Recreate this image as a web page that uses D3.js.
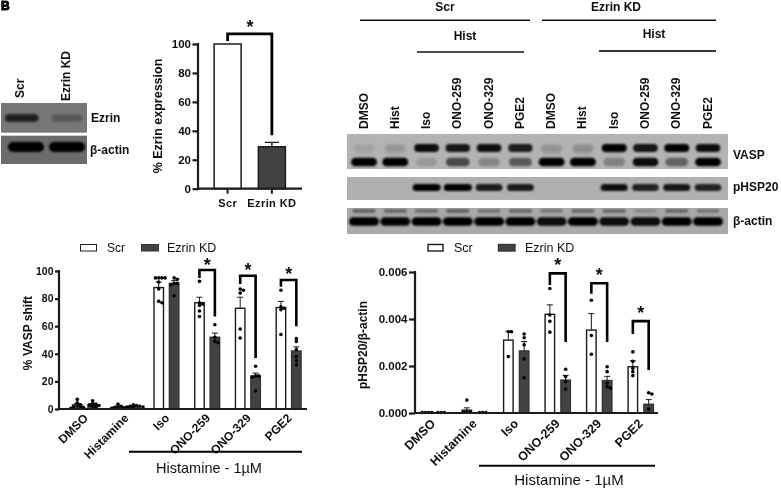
<!DOCTYPE html>
<html><head><meta charset="utf-8">
<script src="https://cdn.jsdelivr.net/npm/d3@7"></script>
<style>
html,body{margin:0;padding:0;background:#fff;}
svg{display:block;font-family:"Liberation Sans",Arial,sans-serif;}
text{fill:#111;}
</style></head><body>
<svg id="c" width="781" height="489"></svg>
<script>
// ---- Data ----
const series = ["Scr","Ezrin KD"];
const expressionMeans = [100,29];
const expressionErrors = [0,3];

const groups = ["DMSO","Histamine","Iso","ONO-259","ONO-329","PGE2"];
const vaspScrMeans = [3,1.5,88,77,73,73.5];
const vaspKdMeans = [3,2,91,52,24,42];
const vaspScrErrors = [1,0.7,4,4,8,4.5];
const vaspKdErrors = [0.8,0.4,2,3,2,3];
const vaspScrPoints = [[7,4.5,3,2,1.5,1,1,0.5],[3.5,2,1.5,1,0.8,0.5],[95,95,95,95,92,87,78,77],[92.5,77,76,75,71,67],[87,86,84,58,51.5],[86,74,73,72,54]];
const vaspKdPoints = [[6,4,3.5,3,2.5,2,1.5],[3,2.5,2,2,1.5,1.5,1],[95,94,91,91,90,82],[61,52,49,48],[31,24,24,23,13],[51,49,43,38,35,32]];
const vaspBrackets = [[3,100.7,95,67],[4,96.6,90.5,37],[5,93.5,88.6,60]];

const hspScrMeans = [0.00003,0.00012,0.0031,0.0042,0.00353,0.00197];
const hspKdMeans = [0.00003,0.00003,0.00264,0.0014,0.00138,0.00037];
const hspScrErrors = [0,0.0001,0.00038,0.0004,0.0007,0.00025];
const hspKdErrors = [0,0,0.0004,0.0002,0.00018,0.0002];
const hspScrPoints = [[0.00002,0.00002,0.00002,0.00002],[0.00055,0.00005,0.00003,0.00003],[0.00346,0.00346,0.0024],[0.0053,0.00417,0.0039,0.00344],[0.0048,0.0033,0.0025],[0.0026,0.0022,0.0019,0.00176,0.00159]];
const hspKdPoints = [[0.00002,0.00002,0.00002],[0.00002,0.00002,0.00002],[0.00336,0.0032,0.0029,0.0023,0.0015],[0.00186,0.00155,0.00133,0.00102],[0.00197,0.00176,0.00127,0.00112,0.00106],[0.00086,0.00081,0.00017]];
const hspBrackets = [[3,0.00594,0.00545,0.00302],[4,0.00552,0.00507,0.00302],[5,0.00391,0.00336,0.00183]];

const yTicksPercent = [0,20,40,60,80,100];
const yTicksHsp = [0,0.002,0.004,0.006];

const lanes = ["DMSO","Hist","Iso","ONO-259","ONO-329","PGE2","DMSO","Hist","Iso","ONO-259","ONO-329","PGE2"];
const vaspUpper = [.06,.1,.95,.88,.92,.85,.1,.12,1,.9,1,.92];
const vaspLower = [1,1,.14,.6,.25,.5,1,1,.28,.95,.45,.98];
const vaspUpperGhost = [.1,.2,0,0,0,0,.25,.28,.25,0,0,0];
const hspBand = [0,0,1,1,.85,.85,0,0,.9,.82,.88,.82];
const actinMain = [1,.97,1,1,1,1,.95,1,.95,.95,1,1];
const actinTop = [.6,.55,.5,.6,.45,.55,.4,.55,.55,.25,.55,.4];
const ezrinLanes = ["Scr","Ezrin KD"];
const ezrinBand = [.85,.26];
const actinBand = [1,1];

// ---- Helpers ----
const svg = d3.select("#c");
const defs = svg.append("defs");
[["blur",1.3],["blur2",0.8],["soft",0.22]].forEach(([id,s])=>{
  defs.append("filter").attr("id",id).attr("x","-20%").attr("y","-60%").attr("width","140%").attr("height","220%")
    .append("feGaussianBlur").attr("stdDeviation",s);
});
const dark="#1a1a1a", kdFill="#434343";
const root = svg.append("g").attr("filter","url(#soft)");

function label(x,y,t,size,opts={}){
  return root.append("text").attr("x",x).attr("y",y).text(t)
    .attr("font-size",size).attr("font-weight",opts.regular?400:700)
    .attr("text-anchor",opts.anchor||"start")
    .attr("dominant-baseline","central")
    .attr("transform",opts.rot!=null?`rotate(${opts.rot} ${x} ${y})`:null);
}
function hline(x1,x2,y,w,c){
  root.append("line").attr("x1",x1).attr("x2",x2).attr("y1",y).attr("y2",y).attr("stroke",c||"#111").attr("stroke-width",w);
}
function axisY(scale,x,ticks,fmt,size,tickLen,w){
  const a = d3.axisLeft(scale).tickValues(ticks).tickFormat(fmt).tickSize(tickLen).tickPadding(1.5);
  const g = root.append("g").attr("transform",`translate(${x},0)`).call(a);
  g.select(".domain").attr("stroke",dark).attr("stroke-width",w).attr("d",`M0,${scale.range()[0]+1}V${scale.range()[1]-1}`);
  g.selectAll(".tick line").attr("stroke",dark).attr("stroke-width",w);
  g.selectAll(".tick text").attr("font-size",size).attr("font-weight",700).attr("font-family","Liberation Sans").attr("fill","#111");
}
function dodge(values,y,step){
  const placed=[];
  values.slice().sort((a,b)=>b-a).forEach(v=>{
    const py=y(v);
    for(const k of [0,1,-1,2,-2,3,-3]){
      const dx=k*step;
      if(!placed.some(p=>Math.hypot(p.dx-dx,p.py-py)<step*0.85)){placed.push({dx,py});break;}
    }
  });
  return placed;
}
function bracket(x1,x2,yTop,yL,yR,w){
  root.append("path").attr("fill","none").attr("stroke","#000").attr("stroke-width",w)
    .attr("d",d3.line()([[x1,yL],[x1,yTop],[x2,yTop],[x2,yR]]));
}
function star(x,y,size){
  root.append("text").attr("x",x).attr("y",y).text("*").attr("font-size",size).attr("font-weight",700)
    .attr("text-anchor","middle").attr("dominant-baseline","central");
}

// ---- Panel label ----
root.append("text").attr("x",1).attr("y",10).text("B").attr("font-size",12).attr("font-weight",700)
  .attr("stroke","#000").attr("stroke-width",1);

// ---- Bands ----
function blotBox(x,y,w,h,fill){
  const id="clip"+Math.round(x)+"_"+Math.round(y);
  defs.append("clipPath").attr("id",id).append("rect").attr("x",x).attr("y",y).attr("width",w).attr("height",h);
  root.append("rect").attr("x",x).attr("y",y).attr("width",w).attr("height",h).attr("fill",fill);
  return root.append("g").attr("clip-path",`url(#${id})`);
}
function bands(g,scale,values,cy,h,wBase,wGain,color,filter){
  g.append("g").attr("filter",`url(#${filter||"blur"})`).selectAll("rect").data(values).join("rect")
    .attr("x",(d,i)=>scale(i)-(wBase+wGain*d)/2)
    .attr("width",d=>wBase+wGain*d)
    .attr("y",cy-h/2).attr("height",h).attr("rx",h/2)
    .attr("fill",color||"#060606").attr("opacity",d=>d);
}

// Right blots
const laneX = d3.scalePoint().domain(d3.range(lanes.length)).range([364,708]);
const b1 = blotBox(347,134,381,35,"#b3b3b3");
bands(b1,laneX,vaspUpperGhost,150,10,18,6,"#777");
bands(b1,laneX,vaspUpper,148,8,21,4);
bands(b1,laneX,vaspLower,162,8.5,20,6);
const b2 = blotBox(347,177,381,23,"#b0b0b0");
bands(b2,laneX,hspBand,187.5,7,20,8);
const b3 = blotBox(347,208,381,26,"#a9a9a9");
bands(b3,laneX,actinTop,211,4,22,2,"#333","blur2");
bands(b3,laneX,actinMain,221.5,8.5,24,6);

// Left blots
const ezrinX = d3.scalePoint().domain([0,1]).range([21.7,67]);
const e1 = blotBox(1,103,86,29.7,"#777");
bands(e1,ezrinX,ezrinBand,118,7.5,30,4,"#0a0a0a");
const actinX = d3.scalePoint().domain([0,1]).range([26,67]);
const e2 = blotBox(1,135.7,86,28.3,"#6c6c6c");
bands(e2,actinX,actinBand,147,10,33,3,"#050505");

label(20,98,"Scr",12,{rot:-90});
label(66,101,"Ezrin KD",12,{rot:-90});
label(91,118,"Ezrin",12);
label(90,149.5,"β-actin",12);

// Right blot headings
label(445,7,"Scr",12,{anchor:"middle"});
label(616,7,"Ezrin KD",12,{anchor:"middle"});
hline(360,530,20.3,1.5); hline(542,716,20.3,1.5);
label(465,36,"Hist",12,{anchor:"middle"});
label(654,34,"Hist",12,{anchor:"middle"});
hline(417,524,52,1.5); hline(599,716,51,2,"#333");
lanes.forEach((t,i)=>label(laneX(i)-0.5,129,t,12,{rot:-90}));
label(733,155,"VASP",12);
label(733,187,"pHSP20",12);
label(733,220.5,"β-actin",12);

// ---- Panel: % Ezrin expression ----
{
  const y=d3.scaleLinear().domain([0,100]).range([188.7,44]);
  const x=d3.scaleBand().domain(series).range([205.5,294]);
  const bw=27, c=d=>x(d)+x.bandwidth()/2;
  root.selectAll(".ez").data(series).join("rect").attr("x",d=>c(d)-bw/2).attr("width",bw)
    .attr("y",(d,i)=>y(expressionMeans[i])).attr("height",(d,i)=>y(0)-y(expressionMeans[i]))
    .attr("fill",(d,i)=>i?kdFill:"#fff").attr("stroke",dark).attr("stroke-width",1.5);
  series.forEach((s,i)=>{
    if(expressionErrors[i]){
      const t=y(expressionMeans[i]+expressionErrors[i]);
      root.append("path").attr("fill","none").attr("stroke",dark).attr("stroke-width",1.3)
        .attr("d",`M${c(s)},${y(expressionMeans[i])}V${t}M${c(s)-7},${t}H${c(s)+7}`);
    }
    root.append("line").attr("x1",c(s)).attr("x2",c(s)).attr("y1",y(0)).attr("y2",y(0)+5).attr("stroke",dark).attr("stroke-width",2);
    label(c(s),203,s,11,{anchor:"middle"}).attr("letter-spacing",0.4);
  });
  hline(197,302,y(0),2.2,dark);
  axisY(y,198,yTicksPercent,d3.format("d"),11.5,5.5,2.2);
  label(158,116,"% Ezrin expression",12.5,{rot:-90,anchor:"middle"});
  bracket(c("Scr"),c("Ezrin KD"),y(107),y(102),y(37),2.8);
  star(250,27,18);
}

// ---- Grouped charts ----
function grouped(o){
  const {y,x0,half,bw,scrMeans,kdMeans,scrErr,kdErr,scrPts,kdPts,brackets}=o;
  const cx=(i,k)=>x0(groups[i])+x0.bandwidth()/2+(k?half:-half);
  [[scrMeans,scrErr,scrPts],[kdMeans,kdErr,kdPts]].forEach(([m,e,p],k)=>{
    groups.forEach((g,i)=>{
      if(y(m[i])<y(0)-1){
        root.append("rect").attr("x",cx(i,k)-bw/2).attr("width",bw).attr("y",y(m[i])).attr("height",y(0)-y(m[i]))
          .attr("fill",k?kdFill:"#fff").attr("stroke",k?"#333":dark).attr("stroke-width",1.4);
      }
      if(e[i]){
        const t=y(m[i]+e[i]);
        root.append("path").attr("fill","none").attr("stroke",dark).attr("stroke-width",1)
          .attr("d",`M${cx(i,k)},${y(m[i])}V${t}M${cx(i,k)-3},${t}H${cx(i,k)+3}`);
      }
      root.append("g").selectAll("circle").data(dodge(p[i],y,3.2)).join("circle")
        .attr("cx",d=>cx(i,k)+d.dx).attr("cy",d=>d.py).attr("r",1.8).attr("fill","#000");
    });
  });
  brackets.forEach(([g,t,l,r])=>{
    bracket(cx(g,0),cx(g,1),y(t),y(l),y(r),o.bracketW);
    star((cx(g,0)+cx(g,1))/2,y(t)-o.starGap,18);
  });
  groups.forEach((g,i)=>{
    const px=x0(g)+x0.bandwidth()/2+o.labelDx, py=y(0)+o.labelDy;
    label(px,py,g,o.labelSize,{anchor:"end",rot:-45});
  });
}

// VASP
{
  const y=d3.scaleLinear().domain([0,100]).range([409,271]);
  const x0=d3.scaleBand().domain(groups).range([64.6,309]);
  grouped({y,x0,half:7.7,bw:9.5,scrMeans:vaspScrMeans,kdMeans:vaspKdMeans,scrErr:vaspScrErrors,kdErr:vaspKdErrors,
    scrPts:vaspScrPoints,kdPts:vaspKdPoints,brackets:vaspBrackets,bracketW:2.6,starGap:5.5,labelDx:1,labelDy:7,labelSize:12});
  hline(58,307,y(0),2.2,dark);
  axisY(y,59,yTicksPercent,d3.format("d"),10.5,4,2.2);
  label(28,333,"% VASP shift",12,{rot:-90,anchor:"middle"});
  root.append("rect").attr("x",80.5).attr("y",244.5).attr("width",16).attr("height",6.5).attr("fill","#fff").attr("stroke",dark).attr("stroke-width",1);
  label(107,248,"Scr",12,{regular:true});
  root.append("rect").attr("x",141.5).attr("y",244.5).attr("width",17).attr("height",6.5).attr("fill",kdFill).attr("stroke","#333").attr("stroke-width",1);
  label(167,248,"Ezrin KD",12.5,{regular:true});
  hline(129,302,451.7,2,"#000");
  label(209,467.7,"Histamine - 1µM",14.5,{regular:true,anchor:"middle"});
}

// pHSP20
{
  const y=d3.scaleLinear().domain([0,0.006]).range([413,272]);
  const x0=d3.scaleBand().domain(groups).range([412.5,661.5]);
  grouped({y,x0,half:7.9,bw:9.5,scrMeans:hspScrMeans,kdMeans:hspKdMeans,scrErr:hspScrErrors,kdErr:hspKdErrors,
    scrPts:hspScrPoints,kdPts:hspKdPoints,brackets:hspBrackets,bracketW:2.6,starGap:8,labelDx:0,labelDy:8.5,labelSize:12.5});
  hline(414,658,y(0),2,dark);
  axisY(y,415,yTicksHsp,d3.format(".3f"),11.5,6,2.2);
  label(363,345,"pHSP20/β-actin",12,{rot:-90,anchor:"middle"});
  root.append("rect").attr("x",428).attr("y",244.5).attr("width",15).attr("height",6.5).attr("fill","#fff").attr("stroke",dark).attr("stroke-width",1.4);
  label(454,248,"Scr",12.5,{regular:true});
  root.append("rect").attr("x",498.5).attr("y",244.5).attr("width",16.5).attr("height",6.5).attr("fill",kdFill).attr("stroke","#333").attr("stroke-width",1.4);
  label(525,248,"Ezrin KD",12.5,{regular:true});
  hline(479,655,465.7,2,"#000");
  label(569,479,"Histamine - 1µM",15,{regular:true,anchor:"middle"});
}
</script>
</body></html>
